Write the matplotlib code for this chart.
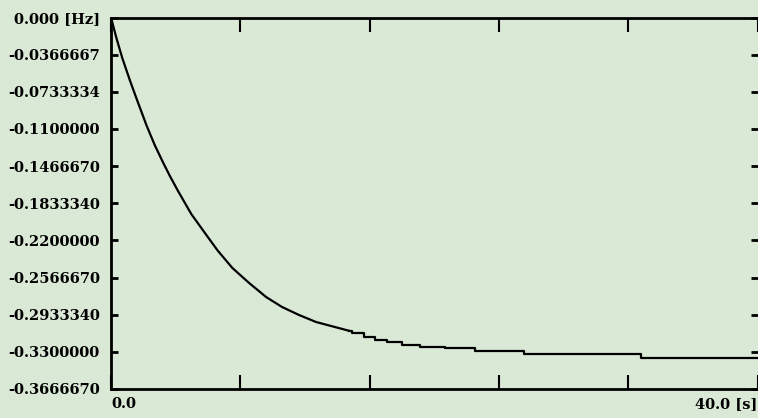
import matplotlib.pyplot as plt

# frequency drift, [s] vs [Hz]
curve_t = [0.0, 0.35, 0.70, 1.17, 1.58, 2.20, 2.71, 3.22, 3.63, 4.14,
           4.97, 5.78, 6.60, 7.51, 8.55, 9.60, 10.58, 11.63, 12.68, 14.09, 14.71]
curve_v = [0.0, -0.0210, -0.0400, -0.0620, -0.0800, -0.1065, -0.1260, -0.1430,
           -0.1560, -0.1710, -0.1940, -0.2120, -0.2300, -0.2472, -0.2621, -0.2759,
           -0.2857, -0.2936, -0.3005, -0.3065, -0.3091]

# flat quantised tail (steps)
tail_t = [14.71, 14.91, 15.63, 16.35, 17.06, 17.98, 19.12, 20.66, 22.50, 25.58, 32.80, 40.0]
tail_v = [-0.3091, -0.3117, -0.3151, -0.3183, -0.3206, -0.3232, -0.3249, -0.3265,
          -0.3289, -0.3321, -0.3356, -0.3356]

ytick_vals = [0.0, -0.0366667, -0.0733334, -0.11, -0.146667, -0.183334, -0.22,
              -0.256667, -0.293334, -0.33, -0.366667]
ytick_labels = ['0.000 [Hz]', '-0.0366667', '-0.0733334', '-0.1100000', '-0.1466670',
                '-0.1833340', '-0.2200000', '-0.2566670', '-0.2933340', '-0.3300000',
                '-0.3666670']
xtick_vals = [0, 8, 16, 24, 32, 40]
xtick_labels = ['0.0', '', '', '', '', '40.0 [s]']

bg = '#dae8d6'
font = dict(family='DejaVu Serif', weight='bold', size=10.5)

fig = plt.figure(figsize=(7.58, 4.18), dpi=100, facecolor=bg)
ax = fig.add_axes([0.1464, 0.0694, 0.8530, 0.8887], facecolor=bg)

ax.plot(curve_t, curve_v, color='black', linewidth=1.6)
ax.plot(tail_t, tail_v, color='black', linewidth=1.6, drawstyle='steps-post')

ax.set_xlim(0, 40)
ax.set_ylim(-0.366667, 0)

ax.set_yticks(ytick_vals)
ax.set_yticklabels(ytick_labels, fontdict=font)
ax.set_xticks(xtick_vals)
ax.set_xticklabels(xtick_labels, fontdict=font)
lbls = ax.get_xticklabels()
lbls[0].set_horizontalalignment('left')
lbls[-1].set_horizontalalignment('right')

ax.tick_params(axis='y', direction='in', left=True, right=True, length=5, width=2, pad=8)
ax.tick_params(axis='x', direction='in', top=True, bottom=True, length=10, width=1.5, pad=6)

for s in ['left', 'top', 'bottom']:
    ax.spines[s].set_linewidth(2)
ax.spines['right'].set_visible(False)

fig.savefig('out.png', dpi=100, facecolor=bg)
